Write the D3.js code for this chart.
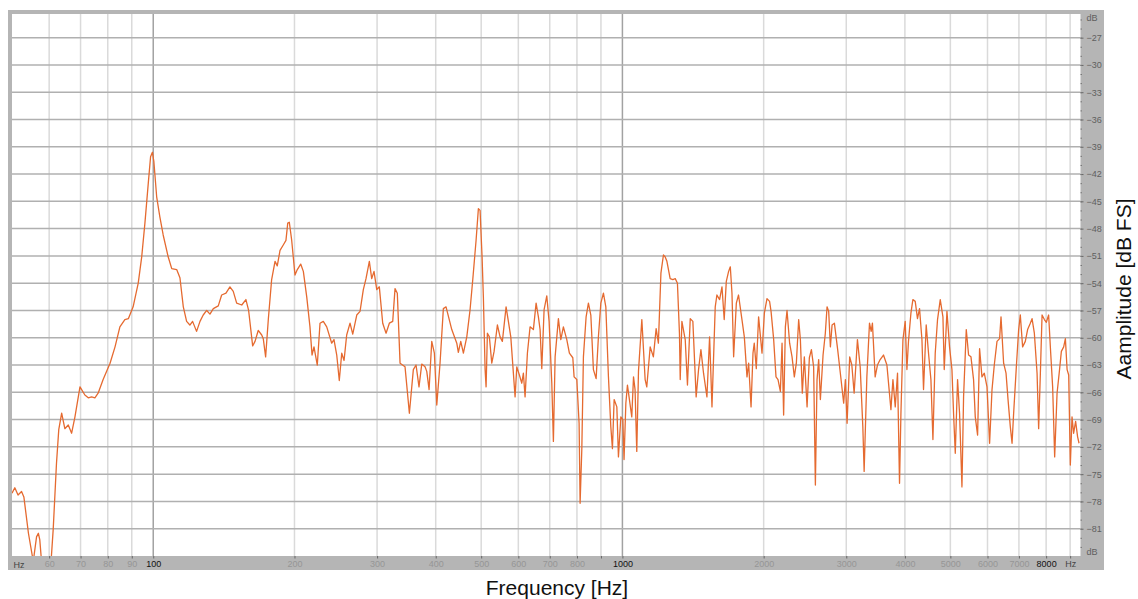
<!DOCTYPE html>
<html>
<head>
<meta charset="utf-8">
<script src="https://cdn.jsdelivr.net/npm/d3@7"></script>
<style>
  body { margin: 0; background: #fff; }
  svg { display: block; font-family: "Liberation Sans", Arial, sans-serif; }
</style>
</head>
<body>
<svg id="chart" width="1138" height="599"></svg>
<script>
// spectrum (Hz / dB FS)
var freqHz = [
  50.0,50.7,51.5,52.4,53.0,54.2,55.5,56.4,56.9,57.3,
  57.8,58.6,59.7,60.4,61.2,62.2,62.9,63.8,64.8,65.9,
  67.0,68.1,69.8,71.5,72.7,73.9,75.1,76.3,78.2,80.9,
  82.9,84.9,87.0,88.5,90.6,92.9,94.5,96.0,97.6,98.7,
  99.6,100.3,101.7,103.3,105.0,107.6,109.5,112.2,114.0,115.9,
  117.8,119.7,121.3,123.7,125.8,127.8,130.0,132.1,134.3,137.6,
  139.9,142.9,145.7,148.1,150.6,154.4,157.6,159.7,162.9,164.8,
  167.4,170.3,171.6,173.6,175.9,178.8,181.8,183.8,186.3,189.3,
  191.8,193.5,195.0,197.3,200.5,202.8,206.2,208.9,212.4,215.8,
  218.0,220.1,223.7,226.7,230.4,234.3,240.1,242.8,246.1,249.2,
  252.2,255.1,258.4,262.7,266.2,271.5,275.9,280.4,284.1,288.8,
  292.2,295.5,299.5,303.3,308.4,313.5,318.6,323.9,327.6,331.3,
  335.8,344.1,351.5,358.4,363.2,368.5,373.5,379.6,382.8,387.2,
  392.3,397.4,402.1,408.6,415.3,420.8,432.8,443.6,447.0,452.3,
  458.2,465.9,473.5,479.8,487.6,493.2,497.3,502.2,505.4,509.7,
  512.2,515.5,520.5,526.7,532.7,541.4,548.6,554.8,565.0,571.4,
  578.2,590.5,595.5,603.1,610.3,615.1,620.2,627.3,635.6,646.0,
  654.7,662.1,667.6,673.2,680.9,689.9,697.8,707.1,712.7,718.7,
  730.4,739.1,748.5,761.1,770.9,783.9,788.9,799.4,808.5,812.5,
  819.3,825.8,836.8,846.3,856.4,867.3,878.9,888.9,899.5,911.0,
  921.8,933.7,944.7,952.2,960.2,973.0,980.7,992.3,1002,1008,
  1017,1025,1035,1047,1056,1064,1073,1082,1100,1118,
  1127,1146,1164,1180,1193,1208,1223,1233,1244,1264,
  1281,1296,1310,1323,1328,1339,1361,1376,1395,1413,
  1436,1453,1470,1489,1514,1534,1552,1577,1590,1611,
  1630,1648,1665,1684,1698,1712,1726,1749,1768,1798,
  1819,1843,1858,1880,1898,1910,1929,1951,1984,2007,
  2033,2059,2074,2100,2125,2146,2171,2189,2206,2225,
  2243,2272,2299,2325,2348,2375,2395,2418,2442,2475,
  2503,2528,2556,2578,2599,2620,2642,2677,2707,2730,
  2752,2775,2798,2830,2876,2914,2962,2987,3012,3051,
  3083,3118,3169,3212,3254,3275,3319,3362,3390,3411,
  3457,3496,3543,3601,3662,3735,3772,3815,3858,3896,
  3923,3962,4006,4040,4071,4120,4160,4208,4255,4298,
  4349,4383,4441,4492,4545,4590,4642,4695,4758,4821,
  4852,4917,4980,5039,5079,5122,5180,5231,5293,5335,
  5406,5468,5532,5603,5650,5715,5771,5839,5906,5985,
  6062,6134,6203,6286,6367,6411,6494,6571,6636,6711,
  6768,6821,6912,6991,7048,7128,7223,7305,7403,7466,
  7551,7652,7712,7777,7842,7932,8008,8099,8167,8260,
  8342,8441,8549,8621,8720,8793,8867,8937,9009,9084,
  9156,9246,9337,9402
];

var levelDb = [
  -77.1,-76.5,-77.3,-76.9,-77.5,-81.5,-84.6,-81.9,-81.5,-82.2,
  -84.6,-87.0,-88.0,-85.5,-81.1,-73.8,-70.1,-68.3,-70.0,-69.6,
  -70.5,-68.7,-65.4,-66.3,-66.6,-66.5,-66.6,-66.1,-64.6,-62.8,
  -61.0,-58.8,-58.0,-57.9,-56.6,-54.0,-51.1,-47.4,-43.0,-40.1,
  -39.6,-40.6,-44.5,-46.7,-48.7,-51.1,-52.4,-52.5,-53.4,-56.6,
  -58.2,-58.6,-58.2,-59.3,-58.2,-57.5,-57.0,-57.4,-56.8,-56.5,
  -55.3,-55.1,-54.4,-54.9,-56.2,-56.4,-55.8,-57.0,-60.9,-60.4,
  -59.2,-59.7,-60.1,-62.1,-58.0,-53.6,-51.6,-52.1,-50.4,-49.8,
  -49.3,-47.4,-47.3,-49.3,-53.1,-52.5,-51.9,-52.7,-55.5,-58.8,
  -61.9,-61.0,-63.0,-58.4,-58.2,-58.8,-60.6,-60.2,-61.9,-64.7,
  -61.7,-62.5,-59.7,-58.4,-59.6,-57.5,-57.1,-54.7,-53.5,-51.6,
  -53.5,-52.7,-54.7,-54.4,-58.4,-59.5,-58.4,-58.2,-54.6,-55.1,
  -62.8,-63.2,-68.3,-63.5,-63.0,-65.4,-62.9,-63.2,-63.7,-65.7,
  -60.4,-61.7,-67.4,-62.8,-56.8,-56.6,-59.1,-60.6,-61.6,-60.4,
  -61.7,-59.9,-56.9,-53.6,-49.3,-45.8,-46.0,-51.1,-55.5,-63.5,
  -65.4,-59.5,-59.9,-62.8,-61.5,-58.6,-59.9,-60.4,-56.6,-58.2,
  -59.9,-66.5,-63.2,-64.1,-65.0,-63.9,-66.5,-61.7,-58.8,-59.1,
  -56.2,-57.7,-59.1,-63.4,-56.9,-55.4,-58.2,-65.0,-71.4,-62.1,
  -57.9,-60.2,-58.8,-60.2,-61.7,-62.2,-64.3,-64.6,-69.4,-78.2,
  -72.3,-62.1,-57.7,-56.2,-57.5,-63.5,-64.5,-59.9,-56.2,-55.1,
  -56.6,-64.3,-69.8,-72.2,-66.8,-67.6,-73.1,-68.7,-69.0,-73.4,
  -67.2,-65.2,-66.8,-68.7,-64.3,-65.7,-72.5,-63.7,-58.0,-64.6,
  -65.4,-61.0,-62.1,-59.0,-60.6,-52.9,-50.9,-51.1,-51.6,-53.5,
  -53.6,-53.5,-54.0,-59.5,-64.6,-58.2,-60.2,-65.2,-57.9,-58.2,
  -66.5,-63.5,-61.3,-63.9,-66.5,-59.9,-67.6,-56.6,-55.3,-55.8,
  -54.4,-58.0,-53.8,-52.7,-52.2,-55.1,-62.1,-56.2,-55.3,-58.0,
  -59.9,-64.3,-62.8,-67.6,-61.7,-60.6,-63.4,-57.7,-61.7,-57.3,
  -55.7,-56.0,-57.1,-60.1,-64.3,-64.6,-65.9,-60.6,-68.5,-58.8,
  -57.0,-60.6,-62.1,-64.3,-62.8,-58.0,-60.2,-66.1,-62.1,-67.6,
  -62.2,-61.3,-63.2,-76.2,-64.6,-62.4,-66.8,-61.9,-59.5,-56.6,
  -57.1,-61.0,-58.6,-58.4,-61.3,-63.9,-67.2,-64.6,-69.4,-62.1,
  -63.0,-66.1,-60.2,-63.2,-69.8,-74.7,-64.3,-58.4,-59.3,-58.4,
  -64.3,-63.0,-62.4,-61.9,-63.0,-67.9,-64.6,-67.6,-63.9,-76.0,
  -68.3,-60.2,-58.2,-63.5,-60.4,-57.3,-55.8,-56.0,-57.9,-56.8,
  -60.2,-65.7,-58.6,-61.7,-64.6,-71.2,-61.7,-58.0,-55.8,-57.7,
  -63.5,-57.1,-61.0,-63.5,-68.3,-72.7,-64.6,-68.3,-76.4,-66.5,
  -59.1,-61.9,-62.1,-64.6,-68.7,-70.7,-61.2,-64.3,-63.9,-65.4,
  -71.6,-65.7,-63.0,-60.4,-60.1,-57.7,-62.8,-63.9,-66.8,-69.8,
  -71.6,-68.3,-63.2,-59.1,-57.5,-61.0,-60.4,-59.1,-58.4,-57.9,
  -59.5,-63.9,-70.0,-63.9,-57.5,-58.0,-58.3,-57.5,-61.0,-65.4,
  -73.1,-66.1,-63.4,-61.5,-61.0,-60.1,-63.5,-64.1,-74.0,-68.7,
  -70.5,-69.2,-70.9,-71.6
];

// axis ticks and their labels
var freqTicks = [60,70,80,90,100,200,300,400,500,600,700,800,900,
                 1000,2000,3000,4000,5000,6000,7000,8000,9000];
var freqLabels = {60:"60",70:"70",80:"80",90:"90",100:"100",200:"200",300:"300",
                  400:"400",500:"500",600:"600",700:"700",800:"800",900:"",
                  1000:"1000",2000:"2000",3000:"3000",4000:"4000",5000:"5000",
                  6000:"6000",7000:"7000",8000:"8000",9000:"Hz"};
var darkFreqLabels = [100, 1000, 8000];
var dbTicks = [-27,-30,-33,-36,-39,-42,-45,-48,-51,-54,-57,-60,-63,-66,-69,-72,-75,-78,-81];
var xTitle = "Frequency [Hz]";
var yTitle = "Aamplitude [dB FS]";

var svg = d3.select("#chart");
var plot = {left: 12, top: 14, right: 1080.5, bottom: 556};

var x = d3.scaleLog().domain([50, 9470]).range([plot.left, plot.right]);
var y = d3.scaleLinear().domain([-84, -24.4]).range([plot.bottom, plot.top]);

// gray frame and white plotting area
svg.append("rect").attr("x", 8).attr("y", 10).attr("width", 1096).attr("height", 560)
  .attr("fill", "#b5b5b5");
svg.append("rect").attr("x", plot.left).attr("y", plot.top)
  .attr("width", plot.right - plot.left).attr("height", plot.bottom - plot.top)
  .attr("fill", "#fff");

// vertical grid
svg.append("g").selectAll("line").data(freqTicks).join("line")
  .attr("x1", function(d) { return x(d); }).attr("x2", function(d) { return x(d); })
  .attr("y1", plot.top).attr("y2", plot.bottom)
  .attr("stroke", function(d) { return (d == 100 || d == 1000) ? "#a2a2a2" : "#dadada"; })
  .attr("stroke-width", 1.5);

// horizontal grid
svg.append("g").selectAll("line").data(dbTicks).join("line")
  .attr("x1", plot.left).attr("x2", plot.right)
  .attr("y1", function(d) { return y(d); }).attr("y2", function(d) { return y(d); })
  .attr("stroke", "#b0b0b0")
  .attr("stroke-width", 1.5);

// the curve, clipped to the plot
svg.append("clipPath").attr("id", "clip").append("rect")
  .attr("x", plot.left).attr("y", plot.top)
  .attr("width", plot.right - plot.left).attr("height", plot.bottom - plot.top);

var line = d3.line()
  .x(function(d) { return x(d); })
  .y(function(d, i) { return y(levelDb[i]); });

svg.append("path")
  .datum(freqHz)
  .attr("clip-path", "url(#clip)")
  .attr("fill", "none")
  .attr("stroke", "#e56a30")
  .attr("stroke-width", 1.3)
  .attr("stroke-linejoin", "round")
  .attr("d", line);

// right axis (dB)
var yAxis = svg.append("g")
  .attr("transform", "translate(" + plot.right + ",0)")
  .call(d3.axisRight(y).tickValues(dbTicks).tickSize(3).tickPadding(3));
yAxis.select(".domain").remove();
yAxis.selectAll(".tick line").attr("stroke", "#666");
yAxis.selectAll(".tick text").attr("fill", "#5f5f5f").style("font-size", "9px");

var yMinor = svg.append("g")
  .attr("transform", "translate(" + plot.right + ",0)")
  .call(d3.axisRight(y).tickValues(d3.range(-83, -24, 1)).tickSize(1.5).tickFormat(""));
yMinor.select(".domain").remove();
yMinor.selectAll(".tick line").attr("stroke", "#777");

svg.append("text").attr("x", plot.right + 6).attr("y", 21).text("dB")
  .attr("fill", "#5f5f5f").style("font-size", "9px");
svg.append("text").attr("x", plot.right + 6).attr("y", 555).text("dB")
  .attr("fill", "#5f5f5f").style("font-size", "9px");

// bottom axis (Hz)
var xAxis = svg.append("g")
  .attr("transform", "translate(0," + plot.bottom + ")")
  .call(d3.axisBottom(x).tickValues(freqTicks).tickSize(2.5).tickPadding(2)
    .tickFormat(function(d) { return freqLabels[d]; }));
xAxis.select(".domain").remove();
xAxis.selectAll(".tick line").attr("stroke", "#666");
xAxis.selectAll(".tick text")
  .style("font-size", "9px")
  .attr("fill", function(d) {
    if (d == 9000) return "#444";
    return darkFreqLabels.indexOf(d) >= 0 ? "#111" : "#959595";
  });

svg.append("text").attr("x", 19).attr("y", 568).attr("text-anchor", "middle")
  .text("Hz").attr("fill", "#444").style("font-size", "9px");

// titles
svg.append("text")
  .attr("x", 557).attr("y", 595)
  .attr("text-anchor", "middle")
  .style("font-size", "21px")
  .attr("fill", "#111")
  .text(xTitle);

svg.append("text")
  .attr("transform", "translate(1131,289) rotate(-90)")
  .attr("text-anchor", "middle")
  .style("font-size", "21px")
  .attr("fill", "#111")
  .text(yTitle);
</script>
</body>
</html>
